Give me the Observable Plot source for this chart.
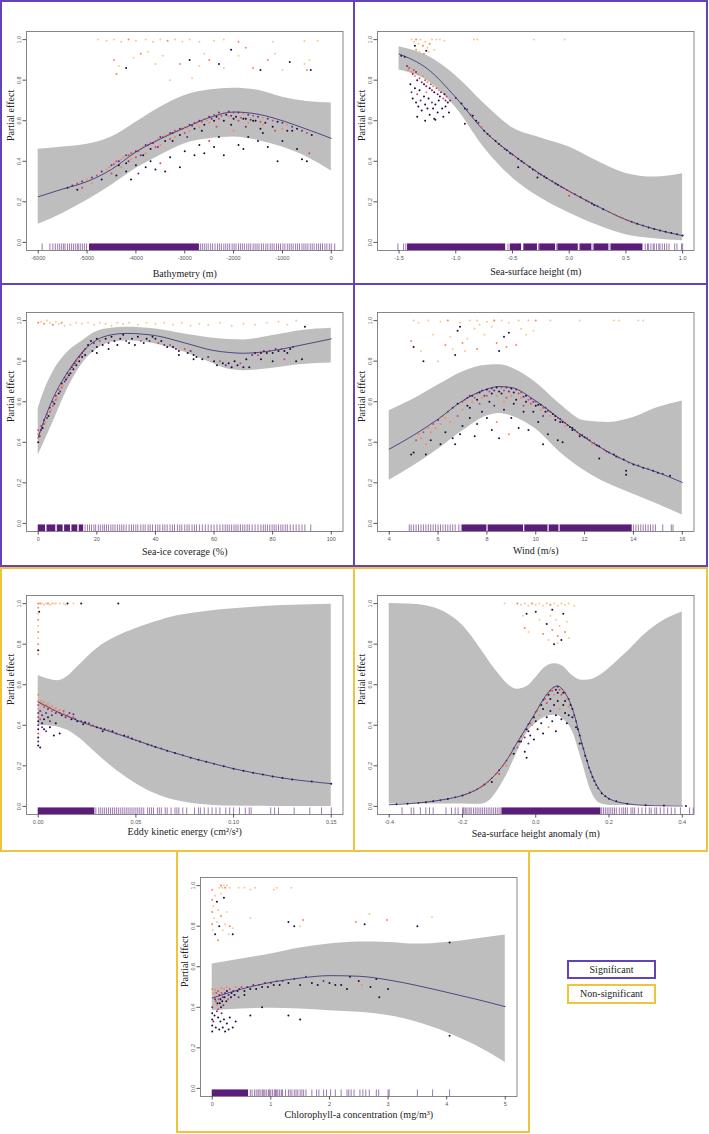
<!DOCTYPE html>
<html><head><meta charset="utf-8">
<script src="https://cdn.jsdelivr.net/npm/d3@7"></script>
<script src="https://cdn.jsdelivr.net/npm/@observablehq/plot@0.6"></script>
<style>
html,body{margin:0;padding:0;background:#fff;}
#root{position:relative;width:709px;height:1134px;overflow:hidden;background:#fff;}
.panel{position:absolute;}
.box{position:absolute;box-sizing:border-box;border:2px solid;pointer-events:none;}
.legend{position:absolute;box-sizing:border-box;border:2px solid;font-family:"Liberation Serif","Times New Roman","DejaVu Serif",serif;font-size:10px;text-align:center;color:#222;}
</style></head><body><div id="root"></div><script>
// ---------- shared values ----------
const yTicks = [0, 0.2, 0.4, 0.6, 0.8, 1.0];
const palette = ["#1e0b3c", "#7b2382", "#d6456c", "#f8875d", "#f9c88f"];
const legendLabels = ["Significant", "Non-significant"];

// ---------- Bathymetry ----------
const bathyTicks = [-6000, -5000, -4000, -3000, -2000, -1000, 0];
const bathyGrid = [-6000, -5500, -5000, -4500, -4000, -3500, -3000, -2500, -2000, -1500, -1000, -500, 0];
const bathyFit = [0.225, 0.263, 0.30, 0.36, 0.446, 0.51, 0.565, 0.615, 0.643, 0.632, 0.60, 0.558, 0.513];
const bathyHi = [0.459, 0.47, 0.484, 0.52, 0.593, 0.667, 0.725, 0.752, 0.76, 0.75, 0.716, 0.695, 0.687];
const bathyLo = [0.089, 0.143, 0.208, 0.282, 0.364, 0.43, 0.487, 0.511, 0.52, 0.503, 0.47, 0.421, 0.352];
const bathyPts = [
[-4780,1.0,4],[-4600,0.995,4],[-4450,1.0,4],[-4300,0.99,4],[-4150,1.0,3],[-4000,0.995,4],[-3800,1.0,4],[-3650,0.99,4],[-3500,1.0,4],[-3350,0.995,3],[-3200,1.0,4],[-3050,0.99,4],[-2900,1.0,4],[-2700,0.99,4],[-2400,0.995,4],[-2200,1.0,4],[-1900,0.99,3],[-1200,0.99,4],[-550,0.995,4],[-280,0.995,4],
[-4450,0.90,3],[-4350,0.87,4],[-4400,0.83,3],[-4200,0.86,0],[-4050,0.91,4],[-3900,0.93,3],[-3750,0.94,4],[-3600,0.88,4],[-3450,0.92,4],[-3300,0.80,4],[-3100,0.88,3],[-2900,0.90,0],[-2850,0.81,4],[-2700,0.87,4],[-2600,0.93,4],[-2500,0.90,3],[-2300,0.88,0],[-2200,0.86,4],[-2050,0.95,0],[-1900,0.92,4],[-1750,0.96,3],[-1600,0.86,3],[-1450,0.85,0],[-1300,0.90,3],[-1150,0.93,4],[-1000,0.85,4],[-850,0.89,0],[-550,0.88,4],[-500,0.85,3],[-450,0.90,4],[-420,0.85,0],
[-5300,0.28,1],[-5200,0.29,2],[-5100,0.30,1],[-5000,0.31,3],[-4900,0.32,1],[-4800,0.33,2],[-4700,0.35,1],[-4600,0.36,3],[-4500,0.38,1],[-4400,0.40,2],[-4300,0.41,3],[-4200,0.43,1],[-4100,0.44,2],[-4000,0.45,1],[-3900,0.46,3],[-3800,0.48,1],[-3700,0.49,2],[-3600,0.50,3],[-3500,0.52,1],[-3400,0.53,3],[-3300,0.54,1],[-3200,0.55,2],[-3100,0.56,1],[-3000,0.57,3],[-2900,0.58,1],[-2800,0.59,2],[-2700,0.60,1],[-2600,0.61,3],[-2500,0.62,1],[-2400,0.63,2],[-2300,0.64,1],[-2200,0.64,3],[-2100,0.645,1],[-2000,0.64,2],[-1900,0.64,1],[-1800,0.635,3],[-1700,0.63,1],[-1600,0.625,2],[-1500,0.62,1],[-1400,0.615,3],[-1300,0.61,1],[-1200,0.60,2],[-1100,0.595,0],[-1000,0.59,1],[-900,0.58,3],[-800,0.57,1],[-700,0.56,0],[-600,0.55,1],[-500,0.54,2],[-400,0.53,0],
[-5100,0.27,2],[-4900,0.29,3],[-4700,0.31,0],[-4500,0.34,2],[-4300,0.37,3],[-4200,0.39,0],[-4100,0.41,3],[-4000,0.42,2],[-3900,0.43,1],[-3800,0.44,3],[-3700,0.46,0],[-3600,0.47,2],[-3500,0.48,3],[-3400,0.50,0],[-3300,0.51,2],[-3200,0.52,3],[-3100,0.53,0],[-3000,0.54,2],[-2900,0.55,3],[-2800,0.56,0],[-2700,0.57,3],[-2600,0.58,0],[-2500,0.59,3],[-2400,0.60,0],[-2300,0.61,2],[-2200,0.60,0],[-2100,0.62,3],[-2000,0.61,0],[-1900,0.60,2],[-1800,0.61,0],[-1700,0.59,3],[-1600,0.60,0],[-1400,0.58,3],[-1200,0.57,0],[-1000,0.56,3],[-800,0.55,0],
[-4550,0.37,3],[-4450,0.385,2],[-4350,0.40,1],[-4250,0.42,3],[-4150,0.43,2],[-4050,0.44,3],[-3950,0.45,2],[-3850,0.47,3],[-3750,0.48,2],[-3650,0.49,1],[-3550,0.51,3],[-3450,0.52,2],[-3350,0.53,3],[-3250,0.54,1],[-3150,0.55,3],[-3050,0.56,2],[-2950,0.565,3],[-2850,0.575,1],[-2750,0.585,3],[-2650,0.595,2],[-2550,0.60,3],[-2450,0.61,1],[-2350,0.62,0],[-2250,0.625,2],[-2150,0.63,0],[-2050,0.625,1],[-1950,0.62,0],[-1850,0.615,2],[-1750,0.61,0],[-1650,0.605,1],[-1550,0.60,0],[-1450,0.595,2],[-1350,0.59,0],[-4350,0.38,0],[-4150,0.40,1],[-3850,0.43,0],[-3550,0.47,1],[-3250,0.50,0],[-2950,0.52,1],[-2650,0.55,0],[-2350,0.57,2],[-2050,0.58,0],[-1750,0.57,1],[-1450,0.56,0],[-1150,0.55,2],
[-4200,0.35,0],[-4100,0.31,0],[-3950,0.34,1],[-3800,0.37,0],[-3700,0.40,0],[-3600,0.36,0],[-3500,0.39,2],[-3400,0.35,0],[-3300,0.42,0],[-3100,0.37,0],[-3000,0.45,0],[-2800,0.43,0],[-2700,0.48,0],[-2600,0.44,0],[-2500,0.50,2],[-2400,0.47,0],[-2300,0.52,0],[-2200,0.43,0],[-2000,0.55,3],[-1900,0.48,0],[-1800,0.46,0],[-1700,0.52,0],[-1500,0.50,0],[-1400,0.54,0],[-1300,0.47,0],[-1100,0.40,0],[-1000,0.50,0],[-900,0.55,0],[-700,0.46,0],[-600,0.41,0],[-500,0.40,0],[-450,0.44,2],[-5400,0.27,0],[-5200,0.26,0],[-4400,0.33,0],[-4000,0.38,0]
];
const bathyRugDense = [[-4950, -2700]];
const bathyRug = [-5920,-5760,-5700,-5650,-5600,-5560,-5520,-5480,-5450,-5400,-5360,-5320,-5280,-5240,-5200,-5170,-5130,-5090,-5050,-5010,
-2680,-2640,-2600,-2560,-2520,-2470,-2430,-2380,-2330,-2290,-2250,-2200,-2160,-2120,-2080,-2030,-1990,-1950,-1900,-1860,-1820,-1780,-1730,-1690,-1650,-1600,-1560,-1520,-1480,-1430,-1390,-1340,-1300,-1250,-1210,-1170,-1120,-1080,-1040,-990,-950,-900,-860,-820,-780,-730,-690,-650,-600,-560,-520,-480,-430,-390,-350,-300,-260,-220,-180,-130,-90,-40,0,70];

// ---------- Sea-surface height ----------
const sshTicks = [-1.5, -1.0, -0.5, 0.0, 0.5, 1.0];
const sshGrid = [-1.5, -1.25, -1.0, -0.75, -0.5, -0.25, 0, 0.25, 0.5, 0.75, 1.0];
const sshFit = [0.929, 0.856, 0.715, 0.55, 0.434, 0.335, 0.252, 0.178, 0.112, 0.066, 0.033];
const sshHi = [0.965, 0.92, 0.822, 0.685, 0.565, 0.515, 0.47, 0.40, 0.34, 0.322, 0.338];
const sshLo = [0.85, 0.797, 0.665, 0.467, 0.318, 0.219, 0.145, 0.084, 0.038, 0.018, 0.008];
const sshPts = [
[-1.39,1.0,4],[-1.37,0.99,4],[-1.35,1.0,3],[-1.33,0.98,4],[-1.31,1.0,4],[-1.29,0.97,3],[-1.27,0.99,4],[-1.25,0.96,4],[-1.23,0.98,3],[-1.21,1.0,4],[-1.19,0.95,4],[-1.35,0.95,3],[-1.32,0.94,4],[-1.28,0.93,3],[-1.24,0.94,4],[-1.17,1.0,4],[-1.14,1.0,4],[-1.10,0.995,4],[-0.84,1.0,4],[-0.81,1.0,4],[-0.31,1.0,4],[-0.04,1.0,4],[-1.36,0.97,0],[-1.26,0.945,0],
[-1.48,0.92,0],[-1.45,0.915,0],
[-1.43,0.87,1],[-1.42,0.85,3],[-1.41,0.86,2],[-1.39,0.84,3],[-1.38,0.83,1],[-1.37,0.85,2],[-1.36,0.82,3],[-1.35,0.84,1],[-1.34,0.80,0],[-1.33,0.83,3],[-1.32,0.81,2],[-1.30,0.79,1],[-1.29,0.82,3],[-1.28,0.78,0],[-1.27,0.80,2],[-1.26,0.77,1],[-1.25,0.79,3],[-1.23,0.76,0],[-1.22,0.78,2],[-1.21,0.75,1],[-1.20,0.77,3],[-1.19,0.74,0],[-1.17,0.76,2],[-1.16,0.73,1],[-1.15,0.75,3],[-1.14,0.72,0],[-1.13,0.74,1],[-1.11,0.71,2],[-1.10,0.73,0],[-1.09,0.70,1],[-1.08,0.72,2],[-1.07,0.69,0],[-1.05,0.70,1],
[-1.40,0.78,0],[-1.39,0.74,1],[-1.38,0.71,0],[-1.36,0.76,0],[-1.35,0.69,0],[-1.34,0.73,2],[-1.33,0.67,0],[-1.32,0.75,0],[-1.31,0.70,1],[-1.30,0.65,0],[-1.28,0.72,0],[-1.27,0.68,0],[-1.26,0.74,3],[-1.25,0.66,0],[-1.24,0.71,0],[-1.23,0.63,0],[-1.21,0.69,1],[-1.20,0.66,0],[-1.19,0.61,0],[-1.18,0.68,0],[-1.16,0.64,0],[-1.15,0.70,0],[-1.12,0.66,0],[-1.11,0.62,0],[-1.09,0.67,0],[-1.06,0.64,0],[-1.34,0.62,0],[-1.27,0.60,0],[-1.18,0.605,0],[-0.92,0.585,0],
[-1.0,0.712,1],[-0.95,0.685,0],[-0.9,0.655,1],[-0.85,0.625,0],[-0.8,0.59,1],[-0.75,0.55,0],[-0.7,0.525,1],[-0.65,0.50,0],[-0.6,0.475,2],[-0.55,0.455,0],[-0.5,0.434,1],[-0.45,0.413,0],[-0.4,0.393,1],[-0.35,0.373,0],[-0.3,0.354,2],[-0.25,0.335,1],[-0.2,0.318,0],[-0.15,0.301,1],[-0.1,0.284,0],[-0.05,0.268,2],[0.0,0.252,3],[0.0,0.23,2],[0.02,0.245,3],[0.05,0.237,1],[0.1,0.222,0],[0.15,0.207,1],[0.2,0.192,0],[0.25,0.178,1],[0.3,0.164,0],[0.35,0.151,3],[0.4,0.137,3],[0.45,0.124,3],[0.5,0.112,3],[0.55,0.102,1],[0.6,0.092,0],[0.65,0.083,1],[0.7,0.074,0],[0.75,0.066,0],[0.8,0.059,0],[0.85,0.052,0],[0.9,0.046,0],[0.95,0.040,0],[1.0,0.034,0],[-0.45,0.37,0],[-0.28,0.32,0],
[-0.92,0.66,0],[-0.87,0.63,2],[-0.82,0.60,0],[-0.77,0.57,3],[-0.72,0.535,0],[-0.67,0.51,3],[-0.62,0.485,0],[-0.57,0.46,1],[-0.52,0.44,0],[-0.47,0.42,3],[-0.42,0.40,0],[-0.37,0.38,3],[-0.32,0.36,0],[-0.27,0.34,1],[-0.22,0.325,0],[-0.17,0.308,3],[-0.12,0.29,0],[-0.07,0.275,1],[-0.02,0.258,2],[0.07,0.23,3],[0.12,0.215,3],[0.17,0.2,2],[0.22,0.185,0],[0.42,0.13,3],[0.47,0.12,3],[0.52,0.107,3],[0.57,0.097,3]
];
const sshRugDense = [[-1.425,-0.56],[-0.52,-0.42],[-0.40,-0.28],[-0.26,-0.12],[-0.10,0.08],[0.10,0.20],[0.22,0.35],[0.37,0.65]];
const sshRug = [-1.51,-1.46,-1.44,-0.54,-0.435,-0.27,-0.11,0.09,0.21,0.36,0.67,0.69,0.70,0.72,0.74,0.75,0.77,0.79,0.80,0.82,0.84,0.86,0.88,0.93,0.95,0.99,1.0];

// ---------- Sea-ice coverage ----------
const iceTicks = [0, 20, 40, 60, 80, 100];
const iceGrid = [0, 2, 5, 10, 15, 20, 25, 30, 35, 40, 50, 60, 65, 70, 80, 90, 100];
const iceFit = [0.424, 0.507, 0.615, 0.745, 0.844, 0.905, 0.93, 0.937, 0.934, 0.926, 0.89, 0.852, 0.843, 0.839, 0.852, 0.88, 0.91];
const iceHi = [0.567, 0.65, 0.745, 0.844, 0.90, 0.946, 0.962, 0.967, 0.965, 0.959, 0.934, 0.913, 0.907, 0.905, 0.926, 0.951, 0.962];
const iceLo = [0.337, 0.40, 0.498, 0.663, 0.786, 0.86, 0.893, 0.901, 0.897, 0.885, 0.844, 0.786, 0.76, 0.753, 0.765, 0.783, 0.791];
const icePts = [
[0,0.99,3],[1,0.995,4],[2,0.985,3],[3,1.0,4],[4,0.99,4],[5,0.98,3],[6,0.995,4],[7,0.985,4],[8,0.99,3],[9,0.975,4],[11,0.98,4],[13,0.99,4],[15,0.985,4],[17,0.99,4],[19,0.98,4],[21,0.99,4],[23,0.985,4],[25,0.975,4],[27,0.99,4],[29,0.985,4],[31,0.99,4],[34,0.98,4],[37,0.99,4],[40,0.985,4],[43,0.99,4],[46,0.98,4],[49,0.99,4],[52,0.975,4],[55,0.985,4],[58,0.98,4],[62,0.99,4],[66,0.975,4],[70,0.985,4],[74,0.98,4],[78,0.99,4],[82,0.995,4],[85,0.98,4],[88,1.0,4],[91,0.97,0],
[0,0.40,0],[0,0.42,3],[0,0.44,3],[0,0.46,2],[0.5,0.43,1],[0.5,0.45,3],[1,0.46,1],[1,0.48,2],[1.5,0.47,0],[2,0.49,2],[2,0.51,1],[2.5,0.50,3],[3,0.52,1],[3,0.54,2],[3.5,0.53,0],[4,0.55,2],[4,0.57,1],[4.5,0.56,3],[5,0.58,2],[5,0.60,1],[5.5,0.59,0],[6,0.61,2],[6,0.63,1],[6.5,0.62,3],[7,0.64,0],[7,0.66,2],[7.5,0.65,1],[8,0.67,2],[8,0.69,0],[8.5,0.68,3],[9,0.70,1],[9,0.72,2],[9.5,0.71,0],[10,0.72,2],[10,0.74,1],[10.5,0.73,0],[11,0.76,2],[11,0.74,0],[11.5,0.77,1],[12,0.78,2],[12,0.76,0],[12.5,0.79,1],[13,0.80,2],[13,0.78,0],[13.5,0.81,3],[14,0.82,1],[14,0.80,0],[14.5,0.83,2],[15,0.84,1],[15,0.82,0],[15.5,0.85,2],[16,0.86,1],[16,0.83,0],
[17,0.88,0],[18,0.90,0],[18.5,0.85,0],[19,0.89,1],[20,0.91,0],[20,0.87,0],[21,0.90,2],[22,0.88,0],[23,0.91,0],[24,0.89,1],[25,0.92,0],[26,0.90,0],[27,0.88,0],[28,0.91,0],[29,0.93,0],[30,0.90,1],[31,0.89,0],[32,0.91,0],[33,0.88,0],[34,0.92,0],[35,0.90,2],[36,0.89,0],[37,0.91,0],[38,0.90,1],[39,0.92,0],[40,0.91,0],[41,0.89,2],[42,0.90,0],[43,0.88,1],[44,0.87,0],[45,0.88,2],[46,0.87,0],[47,0.86,1],[48,0.85,0],[48,0.83,0],[50,0.86,2],[51,0.84,0],[52,0.85,1],[53,0.83,0],[54,0.82,0],[56,0.81,0],[58,0.82,1],[60,0.80,0],[61,0.78,0],[62,0.80,2],[63,0.79,0],[64,0.78,1],[65,0.79,0],[66,0.77,0],[67,0.80,0],[68,0.78,0],[69,0.79,2],[70,0.77,0],[71,0.81,0],[72,0.77,0],[73,0.83,1],[74,0.84,0],[75,0.83,2],[76,0.84,0],[77,0.85,1],[78,0.84,0],[79,0.85,2],[80,0.84,0],[81,0.86,1],[82,0.85,0],[83,0.86,2],[84,0.85,0],[85,0.84,0],[86,0.86,0],[87,0.87,1],[88,0.80,0],[90,0.81,0],[76,0.81,0],[80,0.80,0],[84,0.81,2],[53,0.81,0],[24,0.86,0],[20,0.84,0]
];
const iceRugDense = [[0, 2.5], [3, 6], [6.5, 8.5], [9, 11], [11.5, 13.5], [14, 15.5]];
const iceRug = [16,16.8,17.5,18.2,19,19.6,20.5,21.2,22,22.6,23.3,24,24.8,25.5,26.2,27,27.8,28.5,29.2,30,31,31.8,32.5,33.3,34,35,35.8,36.5,37.5,38.2,39,40,40.8,41.5,42.5,43.2,44,45,45.8,46.5,47.5,48.3,49,50,50.8,51.5,52.5,53.3,54,55,56,57,58,59,60,61,62,63,63.8,64.5,65.2,66,66.8,67.5,68.2,69,69.8,70.5,71.3,72,73,74,75,76,76.8,77.5,78.2,79,79.8,80.5,81.2,82,82.8,83.5,84.3,85,86,87,88,89,90,91,93];

// ---------- Wind ----------
const windTicks = [4, 6, 8, 10, 12, 14, 16];
const windGrid = [4, 5, 6, 7, 8, 8.5, 9, 10, 11, 12, 13, 14, 15, 16];
const windFit = [0.366, 0.435, 0.514, 0.604, 0.662, 0.675, 0.67, 0.604, 0.514, 0.424, 0.35, 0.292, 0.251, 0.202];
const windHi = [0.555, 0.613, 0.682, 0.747, 0.78, 0.782, 0.768, 0.695, 0.588, 0.506, 0.498, 0.522, 0.571, 0.604];
const windLo = [0.213, 0.284, 0.366, 0.456, 0.53, 0.542, 0.53, 0.465, 0.35, 0.26, 0.194, 0.144, 0.095, 0.041];
const windPts = [
[5.0,1.0,4],[5.2,0.99,4],[5.6,1.0,4],[6.1,0.995,4],[6.4,1.0,3],[6.9,0.99,4],[7.3,1.0,4],[7.6,1.0,4],[8.0,0.995,4],[8.3,1.0,3],[8.6,1.0,4],[8.9,0.99,4],[9.3,1.0,4],[9.7,1.0,4],[10.0,1.0,3],[10.6,1.0,4],[11.8,1.0,4],[13.2,1.0,4],[13.4,1.0,4],[14.2,1.0,4],[14.4,1.0,4],[4.9,0.90,3],[5.0,0.87,0],[5.3,0.85,4],[5.4,0.80,0],[5.8,0.93,4],[6.0,0.80,4],[6.3,0.88,3],[6.5,0.92,4],[6.6,0.86,4],[6.7,0.83,0],[6.8,0.95,0],[7.0,0.89,3],[7.1,0.85,4],[7.2,0.91,4],[7.5,0.96,4],[7.6,0.86,3],[7.9,0.93,4],[8.2,0.97,4],[8.4,0.89,3],[8.5,0.85,0],[8.7,0.92,0],[8.8,0.87,3],[8.9,0.94,0],[9.2,0.88,3],[9.4,0.96,4],[9.6,0.93,4],[9.9,0.95,4],[6.9,0.97,0],[7.7,0.98,4],
[4.9,0.34,0],[5.0,0.35,0],[5.2,0.44,3],[5.4,0.45,2],[5.6,0.47,3],[5.8,0.49,2],[6.0,0.51,1],[6.2,0.53,3],[6.4,0.55,2],[6.6,0.57,1],[6.8,0.59,0],[7.0,0.60,2],[7.2,0.62,1],[7.4,0.63,0],[7.6,0.64,2],[7.8,0.655,1],[8.0,0.66,0],[8.2,0.665,1],[8.4,0.67,0],[8.6,0.67,2],[8.8,0.67,1],[9.0,0.665,0],[9.2,0.66,1],[9.4,0.645,2],[9.6,0.63,0],[9.8,0.615,1],[10.0,0.60,2],[10.2,0.585,0],[10.4,0.57,1],[10.6,0.55,2],[10.8,0.53,0],[11.0,0.515,1],[11.2,0.495,2],[11.4,0.475,0],[11.6,0.46,1],[11.8,0.44,2],[12.0,0.425,0],[12.2,0.41,1],[12.4,0.395,2],[12.6,0.38,0],[12.8,0.365,2],[13.0,0.35,1],[13.2,0.34,0],[13.4,0.325,2],[13.6,0.315,0],[13.8,0.30,2],[14.0,0.29,0],[14.2,0.285,1],[14.4,0.275,0],[14.6,0.27,2],[14.8,0.26,0],[15.0,0.25,0],[15.2,0.245,1],[15.5,0.235,0],
[7.1,0.61,2],[7.3,0.63,1],[7.5,0.62,2],[7.7,0.645,0],[7.9,0.63,1],[8.1,0.65,2],[8.3,0.655,1],[8.5,0.65,0],[8.7,0.655,2],[8.9,0.65,1],[9.1,0.645,0],[9.3,0.64,2],[9.5,0.625,1],[9.7,0.61,2],[9.9,0.60,1],[10.1,0.585,0],[10.3,0.57,2],[10.5,0.555,1],[10.7,0.54,0],[10.9,0.52,2],[11.1,0.50,0],[11.3,0.485,1],[11.5,0.47,0],[11.7,0.45,2],[11.9,0.435,0],[12.1,0.42,1],[12.5,0.385,0],[12.9,0.355,1],[13.3,0.33,0],[7.3,0.57,0],[7.7,0.59,2],[8.1,0.60,0],[8.3,0.58,1],[8.7,0.60,3],[9.1,0.59,0],[9.5,0.58,2],[9.9,0.55,0],[10.3,0.53,1],[6.3,0.52,3],[6.1,0.49,3],[5.9,0.47,3],[5.7,0.45,3],[5.3,0.42,3],[5.1,0.41,2],
[6.5,0.50,3],[6.8,0.53,2],[7.0,0.56,3],[7.2,0.58,0],[7.4,0.60,3],[7.6,0.61,0],[7.8,0.62,3],[8.0,0.63,2],[8.2,0.64,0],[8.4,0.63,3],[8.6,0.64,0],[8.8,0.62,2],[9.0,0.63,3],[9.2,0.61,0],[9.4,0.62,3],[9.6,0.60,0],[9.8,0.59,2],[10.0,0.58,0],[10.2,0.56,3],[10.4,0.55,0],[10.6,0.53,3],[10.8,0.51,0],[11.0,0.50,0],[11.2,0.48,3],[11.5,0.46,0],[11.8,0.43,0],[12.3,0.39,3],
[5.5,0.34,0],[5.5,0.39,3],[5.7,0.41,0],[6.1,0.39,0],[6.3,0.45,0],[6.6,0.42,0],[6.7,0.39,0],[6.9,0.44,0],[7.0,0.48,0],[7.3,0.52,0],[7.5,0.43,0],[7.6,0.49,0],[7.8,0.55,0],[8.0,0.52,0],[8.2,0.46,0],[8.4,0.50,3],[8.5,0.42,0],[8.7,0.56,0],[8.9,0.44,3],[9.0,0.52,0],[9.3,0.47,0],[9.5,0.55,0],[9.7,0.46,0],[10.1,0.50,0],[10.3,0.39,0],[10.5,0.44,0],[10.9,0.41,0],[11.1,0.40,0],[12.6,0.32,0],[13.7,0.26,0],[13.7,0.24,0]
];
const windRugDense = [[7.0, 8.0], [8.05, 9.5], [9.55, 10.5], [10.55, 10.95], [11.0, 13.95]];
const windRug = [4.82,4.9,5.0,5.1,5.2,5.3,5.4,5.5,5.6,5.7,5.8,5.9,6.0,6.1,6.2,6.3,6.4,6.5,6.6,6.7,6.85,6.95,14.0,14.1,14.2,14.3,14.4,14.5,14.6,14.7,14.8,14.9,15.2,15.55,15.62];

// ---------- Eddy kinetic energy ----------
const ekeTicks = [0.00, 0.05, 0.10, 0.15];
const ekeGrid = [0, 0.005, 0.01, 0.015, 0.02, 0.03, 0.04, 0.05, 0.06, 0.07, 0.08, 0.09, 0.10, 0.11, 0.12, 0.13, 0.14, 0.15];
const ekeFit = [0.515, 0.49, 0.465, 0.445, 0.424, 0.39, 0.359, 0.326, 0.293, 0.263, 0.235, 0.21, 0.186, 0.166, 0.148, 0.133, 0.122, 0.112];
const ekeHi = [0.646, 0.628, 0.62, 0.64, 0.687, 0.778, 0.836, 0.877, 0.91, 0.938, 0.954, 0.966, 0.975, 0.982, 0.988, 0.992, 0.995, 0.997];
const ekeLo = [0.40, 0.398, 0.392, 0.375, 0.345, 0.26, 0.178, 0.112, 0.062, 0.03, 0.013, 0.005, 0.002, 0.001, 0, 0, 0, 0];
const ekePts = [
[0,1.0,3],[0,0.98,3],[0,0.95,4],[0,0.92,3],[0,0.89,4],[0,0.86,3],[0,0.83,4],[0,0.80,3],[0,0.77,0],[0,0.75,3],[0,0.55,3],[0,0.52,3],[0,0.50,2],[0,0.48,3],[0,0.46,1],[0,0.44,2],[0,0.42,0],[0,0.40,1],[0,0.38,0],[0,0.36,2],[0,0.34,0],[0,0.32,1],[0,0.30,0],[0.001,0.29,0],[0.0005,0.96,0],
[0.001,1.0,3],[0.002,1.0,4],[0.003,0.995,4],[0.004,1.0,4],[0.005,1.0,3],[0.006,0.995,4],[0.007,1.0,4],[0.008,1.0,4],[0.009,1.0,4],[0.011,1.0,4],[0.013,1.0,4],[0.014,0.995,4],[0.015,1.0,0],[0.018,1.0,4],[0.022,1.0,0],[0.041,1.0,0],
[0.001,0.51,3],[0.002,0.50,3],[0.003,0.49,2],[0.004,0.50,3],[0.005,0.48,1],[0.006,0.49,3],[0.007,0.47,2],[0.008,0.48,3],[0.009,0.46,1],[0.010,0.47,3],[0.011,0.46,2],[0.012,0.45,0],[0.013,0.46,3],[0.014,0.44,1],[0.015,0.45,2],[0.016,0.44,3],[0.017,0.43,0],[0.018,0.44,2],[0.019,0.43,1],[0.020,0.42,0],[0.001,0.47,1],[0.002,0.45,1],[0.003,0.43,0],[0.004,0.46,1],[0.005,0.44,0],[0.006,0.42,1],[0.007,0.45,1],[0.002,0.41,0],[0.003,0.38,0],[0.004,0.37,1],[0.006,0.39,0],[0.008,0.35,0],[0.009,0.41,0],[0.011,0.36,0],[0.0015,0.52,3],[0.003,0.515,3],[0.005,0.505,3],[0.007,0.495,3],[0.009,0.485,3],[0.011,0.475,3],[0.013,0.47,2],[0.016,0.46,1],[0.018,0.455,1],[0.002,0.39,1],[0.001,0.43,2],
[0.022,0.42,1],[0.024,0.415,0],[0.026,0.41,1],[0.028,0.40,2],[0.030,0.39,0],[0.032,0.385,1],[0.034,0.38,0],[0.036,0.375,2],[0.038,0.37,0],[0.040,0.36,1],[0.042,0.355,3],[0.044,0.35,0],[0.046,0.345,1],[0.048,0.335,0],[0.050,0.326,2],[0.052,0.32,0],[0.054,0.315,3],[0.056,0.305,0],[0.058,0.30,1],[0.060,0.293,0],[0.063,0.285,1],[0.066,0.275,0],[0.070,0.263,0],[0.074,0.252,1],[0.078,0.24,0],[0.082,0.23,0],[0.086,0.22,0],[0.090,0.21,1],[0.095,0.198,0],[0.100,0.186,0],[0.105,0.176,0],[0.110,0.166,0],[0.115,0.157,0],[0.120,0.148,0],[0.125,0.14,0],[0.130,0.133,0],[0.140,0.123,0],[0.150,0.112,0],[0.023,0.405,0],[0.027,0.395,3],[0.033,0.37,0]
];
const ekeRugDense = [[0, 0.029]];
const ekeRug = [0.0295,0.031,0.032,0.033,0.034,0.035,0.036,0.037,0.038,0.039,0.040,0.041,0.042,0.043,0.044,0.045,0.046,0.047,0.048,0.049,0.050,0.051,0.052,0.053,0.054,0.056,0.057,0.058,0.059,0.061,0.062,0.063,0.065,0.066,0.068,0.070,0.071,0.072,0.074,0.076,0.080,0.082,0.083,0.085,0.087,0.089,0.091,0.093,0.096,0.098,0.100,0.103,0.106,0.108,0.109,0.119,0.121,0.123,0.131,0.139,0.145,0.150];

// ---------- Sea-surface height anomaly ----------
const sshaTicks = [-0.4, -0.2, 0.0, 0.2, 0.4];
const sshaGrid = [-0.4, -0.35, -0.3, -0.25, -0.2, -0.15, -0.125, -0.1, -0.075, -0.05, -0.025, 0, 0.025, 0.05, 0.06, 0.075, 0.1, 0.125, 0.15, 0.175, 0.2, 0.25, 0.3, 0.35, 0.4];
const sshaFit = [0.008, 0.013, 0.021, 0.034, 0.054, 0.095, 0.13, 0.178, 0.24, 0.317, 0.39, 0.465, 0.54, 0.589, 0.594, 0.572, 0.482, 0.317, 0.169, 0.079, 0.038, 0.013, 0.005, 0.003, 0.002];
const sshaHi = [1.0, 0.998, 0.99, 0.96, 0.893, 0.775, 0.71, 0.65, 0.60, 0.578, 0.59, 0.635, 0.685, 0.704, 0.702, 0.69, 0.645, 0.622, 0.625, 0.645, 0.68, 0.762, 0.852, 0.918, 0.959];
const sshaLo = [0.012, 0.012, 0.012, 0.012, 0.012, 0.01, 0.03, 0.09, 0.17, 0.27, 0.36, 0.41, 0.44, 0.45, 0.448, 0.43, 0.37, 0.23, 0.08, 0.015, 0.005, 0.004, 0.004, 0.004, 0.004];
const sshaPts = [
[-0.085,1.0,4],[-0.05,1.0,3],[-0.04,0.995,4],[-0.03,1.0,4],[-0.02,0.99,4],[-0.01,1.0,3],[0.0,0.995,4],[0.01,1.0,4],[0.02,0.99,4],[0.03,1.0,4],[0.04,0.995,3],[0.05,1.0,4],[0.06,0.99,4],[0.07,1.0,4],[0.08,0.995,4],[0.09,1.0,4],[0.105,0.99,4],[-0.035,0.94,4],[-0.03,0.88,3],[-0.02,0.86,4],[0.0,0.96,0],[0.01,0.92,4],[0.02,0.85,3],[0.03,0.90,0],[0.035,0.82,4],[0.04,0.94,4],[0.045,0.87,3],[0.05,0.80,0],[0.055,0.92,4],[0.06,0.84,3],[0.065,0.89,4],[0.07,0.82,0],[0.075,0.95,0],[0.08,0.86,3],[0.085,0.91,4],[0.09,0.83,4],[0.06,0.805,4],[0.045,0.97,0],[-0.025,0.95,0],
[-0.38,0.01,0],[-0.35,0.013,0],[-0.32,0.017,1],[-0.3,0.021,0],[-0.28,0.025,0],[-0.26,0.03,1],[-0.24,0.037,0],[-0.22,0.045,1],[-0.2,0.054,0],[-0.19,0.06,3],[-0.18,0.068,1],[-0.17,0.076,3],[-0.16,0.085,2],[-0.15,0.095,3],[-0.14,0.108,1],[-0.13,0.12,3],[-0.12,0.14,2],[-0.11,0.158,3],[-0.10,0.178,1],[-0.09,0.2,3],[-0.08,0.225,2],[-0.07,0.255,3],[-0.06,0.285,1],[-0.05,0.317,3],[-0.04,0.345,2],[-0.03,0.375,3],[-0.02,0.405,1],[-0.01,0.435,3],[0.0,0.465,2],[0.01,0.495,3],[0.02,0.525,1],[0.03,0.55,3],[0.04,0.57,2],[0.05,0.585,3],[0.06,0.59,1],[0.07,0.58,3],[0.08,0.56,2],[0.09,0.53,1],[0.1,0.48,0],[0.11,0.42,1],[0.12,0.35,0],[0.13,0.285,1],[0.14,0.225,0],[0.15,0.17,1],[0.16,0.125,0],[0.17,0.09,1],[0.18,0.065,0],[0.19,0.05,0],[0.2,0.038,0],[0.22,0.025,0],[0.25,0.013,0],[0.3,0.006,0],[0.35,0.004,0],[0.41,0.002,0],
[-0.045,0.32,0],[-0.035,0.35,3],[-0.025,0.38,0],[-0.015,0.41,2],[-0.005,0.44,0],[0.005,0.47,3],[0.015,0.50,0],[0.025,0.53,2],[0.035,0.55,0],[0.045,0.57,2],[0.055,0.575,0],[0.065,0.575,2],[0.075,0.56,0],[0.085,0.53,3],[0.095,0.50,0],[0.105,0.45,1],[0.115,0.38,0],[0.125,0.31,1],[0.135,0.25,0],[0.145,0.19,1],[0.155,0.145,0],[0.165,0.105,1],[-0.065,0.26,3],[-0.085,0.21,3],[-0.105,0.165,3],[-0.125,0.13,3],[-0.145,0.10,3],
[-0.12,0.12,0],[-0.1,0.16,2],[-0.08,0.2,3],[-0.06,0.26,0],[-0.05,0.29,2],[-0.04,0.32,0],[-0.03,0.34,1],[-0.02,0.37,0],[-0.01,0.40,3],[0.0,0.42,0],[0.01,0.45,3],[0.02,0.48,0],[0.03,0.51,2],[0.04,0.53,0],[0.05,0.55,3],[0.06,0.56,0],[0.07,0.55,2],[0.08,0.52,0],[0.09,0.49,3],[0.1,0.44,0],[0.11,0.39,0],[0.12,0.31,0],
[-0.03,0.27,0],[-0.02,0.31,1],[-0.015,0.35,0],[-0.005,0.33,0],[0.005,0.38,0],[0.015,0.41,0],[0.02,0.36,0],[0.03,0.44,0],[0.035,0.39,3],[0.04,0.47,0],[0.045,0.42,0],[0.05,0.50,0],[0.055,0.45,0],[0.06,0.52,0],[0.065,0.48,3],[0.07,0.43,0],[0.075,0.50,0],[0.08,0.46,0],[0.085,0.41,0],[0.09,0.45,0],[-0.025,0.24,0],[0.055,0.37,0]
];
const sshaRugDense = [[-0.092, 0.178]];
const sshaRug = [-0.365,-0.34,-0.333,-0.315,-0.30,-0.29,-0.28,-0.245,-0.23,-0.22,-0.212,-0.2,-0.197,-0.193,-0.19,-0.185,-0.18,-0.176,-0.17,-0.165,-0.16,-0.155,-0.15,-0.145,-0.14,-0.135,-0.13,-0.125,-0.12,-0.115,-0.11,-0.105,-0.1,-0.095,0.18,0.185,0.19,0.195,0.2,0.205,0.21,0.215,0.22,0.228,0.235,0.24,0.245,0.25,0.26,0.265,0.27,0.28,0.29,0.30,0.31,0.315,0.325,0.33,0.34,0.35,0.36,0.37,0.38,0.395,0.42,0.43];

// ---------- Chlorophyll-a ----------
const chlTicks = [0, 1, 2, 3, 4, 5];
const chlGrid = [0, 0.5, 1, 1.5, 2, 2.5, 3, 3.5, 4, 4.5, 5];
const chlFit = [0.445, 0.49, 0.523, 0.544, 0.556, 0.553, 0.535, 0.507, 0.474, 0.44, 0.403];
const chlHi = [0.613, 0.638, 0.663, 0.692, 0.712, 0.722, 0.72, 0.712, 0.72, 0.737, 0.757];
const chlLo = [0.383, 0.391, 0.395, 0.391, 0.383, 0.375, 0.359, 0.326, 0.276, 0.211, 0.128];
const chlPts = [
[0.0,0.98,3],[0.05,0.95,4],[0.0,0.93,3],[0.02,0.90,4],[0.0,0.87,3],[0.03,0.84,4],[0.0,0.81,3],[0.01,0.78,4],[0.05,0.76,0],[0.1,0.73,3],[0.12,0.99,4],[0.15,1.0,3],[0.17,0.99,4],[0.2,1.0,4],[0.22,0.99,3],[0.25,1.0,4],[0.3,0.99,4],[0.15,0.96,4],[0.08,0.92,0],[0.1,0.88,4],[0.15,0.85,3],[0.2,0.94,0],[0.25,0.87,4],[0.3,0.80,3],[0.18,0.78,4],[0.28,0.76,4],[0.35,0.79,4],[0.35,0.76,0],[0.08,0.82,4],[0.12,0.80,0],[0.22,0.81,4],[0.45,0.99,4],[0.55,0.99,4],[0.65,0.98,4],[0.73,0.99,4],[1.05,0.98,4],[1.1,0.99,4],[1.35,0.99,4],[0.65,0.84,4],[1.3,0.82,0],[1.4,0.80,0],[1.55,0.83,3],[1.5,0.80,4],[2.45,0.82,3],[2.6,0.81,0],[2.68,0.86,4],[2.98,0.83,3],[3.5,0.80,0],[3.75,0.845,4],[4.05,0.72,0],
[0.0,0.49,3],[0.02,0.47,3],[0.04,0.45,3],[0.06,0.43,2],[0.08,0.41,3],[0.0,0.40,1],[0.0,0.37,0],[0.0,0.34,0],[0.0,0.31,0],[0.0,0.28,0],[0.02,0.33,1],[0.04,0.36,0],[0.06,0.30,0],[0.08,0.38,1],[0.1,0.35,0],[0.12,0.29,0],[0.14,0.33,0],[0.16,0.37,1],[0.18,0.30,0],[0.2,0.34,0],[0.22,0.28,0],[0.25,0.32,0],[0.28,0.29,0],[0.3,0.35,0],[0.35,0.30,0],[0.4,0.33,0],
[0.1,0.48,2],[0.12,0.46,1],[0.14,0.44,0],[0.16,0.47,2],[0.18,0.45,1],[0.2,0.49,3],[0.22,0.47,1],[0.25,0.48,0],[0.28,0.46,1],[0.3,0.49,2],[0.33,0.47,0],[0.36,0.48,1],[0.4,0.50,3],[0.43,0.48,0],[0.46,0.49,1],[0.5,0.50,2],[0.55,0.48,0],[0.6,0.50,1],[0.65,0.49,0],[0.7,0.51,1],[0.75,0.49,0],[0.8,0.51,2],[0.85,0.50,0],[0.9,0.52,1],[0.95,0.50,0],[1.0,0.52,1],[1.05,0.51,0],[1.1,0.53,2],[1.15,0.51,0],[1.2,0.53,1],[1.3,0.52,0],[1.4,0.54,1],[1.5,0.51,0],[1.6,0.55,1],[1.7,0.52,0],[1.8,0.51,0],[1.9,0.53,1],[2.0,0.52,0],[2.1,0.51,0],[2.2,0.51,0],[2.3,0.49,0],[2.35,0.55,0],[2.5,0.53,0],[2.55,0.51,3],[2.7,0.50,0],[2.8,0.54,0],[2.85,0.45,0],[3.0,0.49,0],
[0.05,0.44,1],[0.07,0.47,2],[0.09,0.42,0],[0.11,0.44,2],[0.13,0.42,0],[0.15,0.40,0],[0.17,0.43,0],[0.19,0.41,1],[0.21,0.45,0],[0.24,0.43,0],[0.27,0.44,2],[0.32,0.45,0],[0.38,0.46,0],[0.45,0.45,1],[0.55,0.46,0],[0.65,0.36,0],[0.85,0.40,0],[1.3,0.36,0],[1.5,0.34,0],[4.05,0.26,0],[0.1,0.39,2],[0.05,0.485,3],[0.15,0.495,3],[0.25,0.50,3]
];
const chlRugDense = [[0, 0.62]];
const chlRug = [0.65,0.68,0.72,0.75,0.78,0.8,0.83,0.86,0.88,0.9,0.93,0.96,0.98,1.0,1.03,1.06,1.08,1.1,1.12,1.15,1.18,1.2,1.25,1.3,1.33,1.36,1.4,1.43,1.46,1.5,1.53,1.56,1.6,1.7,1.78,1.82,1.9,1.95,2.02,2.1,2.2,2.3,2.33,2.37,2.42,2.52,2.57,2.62,2.68,2.8,2.84,3.0,3.02,3.5,3.76,4.05];

// ---------- layout & drawing ----------
const PURPLE = "#6244b8", YELLOW = "#eec43c";
const rugColor = "#5c1c7c";
const SERIF = "'Liberation Serif', 'Times New Roman', 'DejaVu Serif', serif";
const SANS = "'Liberation Sans', Arial, sans-serif";
const W = 316.5, H = 219;
const f0 = d => d.toFixed(0), f1 = d => d.toFixed(1), f2 = d => d.toFixed(2);

const panels = [
  {grid: bathyGrid, fit: bathyFit, lo: bathyLo, hi: bathyHi, pts: bathyPts, dense: bathyRugDense, rug: bathyRug, ticks: bathyTicks, fmt: f0, xDomain: [-6240, 240], label: "Bathymetry (m)", left: 26, top: 31, labelDy: 26},
  {grid: sshGrid, fit: sshFit, lo: sshLo, hi: sshHi, pts: sshPts, dense: sshRugDense, rug: sshRug, ticks: sshTicks, fmt: f1, xDomain: [-1.69, 1.10], label: "Sea-surface height (m)", left: 376.7, top: 31, labelDy: 24.5},
  {grid: iceGrid, fit: iceFit, lo: iceLo, hi: iceHi, pts: icePts, dense: iceRugDense, rug: iceRug, ticks: iceTicks, fmt: f0, xDomain: [-4, 104], label: "Sea-ice coverage (%)", left: 25.5, top: 312, labelDy: 23},
  {grid: windGrid, fit: windFit, lo: windLo, hi: windHi, pts: windPts, dense: windRugDense, rug: windRug, ticks: windTicks, fmt: f0, xDomain: [3.52, 16.48], label: "Wind (m/s)", left: 376.6, top: 311.7, labelDy: 22},
  {grid: ekeGrid, fit: ekeFit, lo: ekeLo, hi: ekeHi, pts: ekePts, dense: ekeRugDense, rug: ekeRug, ticks: ekeTicks, fmt: f2, xDomain: [-0.006, 0.156], label: "Eddy kinetic energy (cm²/s²)", left: 26, top: 595, labelDy: 20},
  {grid: sshaGrid, fit: sshaFit, lo: sshaLo, hi: sshaHi, pts: sshaPts, dense: sshaRugDense, rug: sshaRug, ticks: sshaTicks, fmt: f1, xDomain: [-0.432, 0.432], label: "Sea-surface height anomaly (m)", left: 376.6, top: 595, labelDy: 22},
  {grid: chlGrid, fit: chlFit, lo: chlLo, hi: chlHi, pts: chlPts, dense: chlRugDense, rug: chlRug, ticks: chlTicks, fmt: f0, xDomain: [-0.2, 5.2], label: "Chlorophyll-a concentration (mg/m³)", left: 200, top: 877, labelDy: 21}
];

const root = document.getElementById("root");
const mL = 32, mR = 6, mT = 6, mB = 40;
const yBase = -0.04, yRugTop = -0.0076;

for (const p of panels) {
  const rows = p.grid.map((x, i) => ({x, fit: p.fit[i], lo: p.lo[i], hi: p.hi[i]}));
  const svg = Plot.plot({
    width: mL + W + mR, height: mT + H + mB,
    marginLeft: mL, marginRight: mR, marginTop: mT, marginBottom: mB,
    style: {background: "transparent", overflow: "visible"},
    x: {domain: p.xDomain},
    y: {domain: [-0.04, 1.04]},
    color: {type: "identity"},
    marks: [
      Plot.areaY(rows, {x: "x", y1: "lo", y2: "hi", fill: "#bebebe", curve: "monotone-x"}),
      Plot.dot(p.pts, {x: d => d[0], y: d => d[1], fill: d => palette[d[2]], r: 1.0}),
      Plot.line(rows, {x: "x", y: "fit", stroke: "#2f2b70", strokeWidth: 0.8, curve: "monotone-x"}),
      Plot.rect(p.dense, {x1: d => d[0], x2: d => d[1], y1: yBase, y2: yRugTop, fill: rugColor}),
      Plot.ruleX(p.rug, {x: d => d, y1: yBase, y2: yRugTop, stroke: rugColor, strokeWidth: 0.6}),
      Plot.frame({stroke: "#7a7a7a", strokeWidth: 0.9}),
      Plot.axisX({ticks: p.ticks, tickFormat: p.fmt, tickSize: 3.5, tickPadding: 2.5, fontSize: 5.5, fontFamily: SANS, color: "#555", label: null}),
      Plot.axisY({ticks: yTicks, tickFormat: f1, tickRotate: -90, tickSize: 3.5, tickPadding: 2.5, fontSize: 5.5, fontFamily: SANS, color: "#555", label: null}),
      Plot.text([p.label], {text: d => d, frameAnchor: "bottom", dy: p.labelDy, fontFamily: SERIF, fontSize: 10, fill: "#222"}),
      Plot.text(["Partial effect"], {text: d => d, frameAnchor: "left", dx: -16, rotate: -90, fontFamily: SERIF, fontSize: 10, fill: "#222"})
    ]
  });
  const div = document.createElement("div");
  div.className = "panel";
  div.style.left = (p.left - mL) + "px";
  div.style.top = (p.top - mT) + "px";
  div.appendChild(svg);
  root.appendChild(div);
}

// panel borders
const boxes = [
  [0, 0, 355, 285, PURPLE], [353, 0, 355, 285, PURPLE],
  [0, 283, 355, 284, PURPLE], [353, 283, 355, 284, PURPLE],
  [0, 567, 355, 285, YELLOW], [353, 567, 355, 285, YELLOW],
  [176, 850, 354, 283, YELLOW]
];
for (const [l, t, w, h, c] of boxes) {
  const b = document.createElement("div");
  b.className = "box";
  Object.assign(b.style, {left: l + "px", top: t + "px", width: w + "px", height: h + "px", borderColor: c});
  root.appendChild(b);
}
// legend
[[legendLabels[0], 960, 19, PURPLE], [legendLabels[1], 984, 20, YELLOW]].forEach(([txt, t, h, c]) => {
  const l = document.createElement("div");
  l.className = "legend";
  Object.assign(l.style, {left: "567px", top: t + "px", width: "89px", height: h + "px", lineHeight: (h - 4) + "px", borderColor: c});
  l.textContent = txt;
  root.appendChild(l);
});
</script></body></html>
